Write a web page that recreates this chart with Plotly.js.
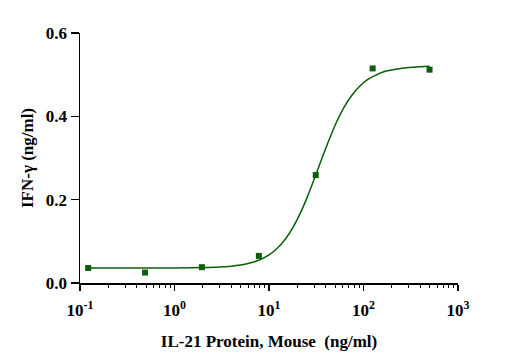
<!DOCTYPE html>
<html>
<head>
<meta charset="utf-8">
<script src="https://cdn.plot.ly/plotly-3.0.1.min.js"></script>
<style>html,body{margin:0;padding:0;background:#fff;}#chart{width:511px;height:363px;}</style>
</head>
<body>
<div id="chart"></div>
<script>
// Measured points
var concentration = [0.122, 0.488, 1.95, 7.81, 31.25, 125, 500];
var ifnGamma = [0.036, 0.025, 0.038, 0.065, 0.259, 0.515, 0.512];

// Fitted curve
var curveX = [0.122, 0.5, 1, 2, 3, 4, 5, 6, 8, 10, 12, 15, 18, 22, 26, 31, 37, 44, 52, 62, 75, 90, 110, 135, 170, 220, 300, 400, 500];
var curveY = [0.036, 0.036, 0.0362, 0.037, 0.0384, 0.0405, 0.0432, 0.0467, 0.0558, 0.0675, 0.0816, 0.1064, 0.134, 0.173, 0.212, 0.257, 0.304, 0.348, 0.387, 0.421, 0.450, 0.471, 0.488, 0.499, 0.508, 0.513, 0.517, 0.519, 0.520];

var xTickVals = [0.1, 1, 10, 100, 1000];
var xTickText = ['10<sup>-1</sup>', '10<sup>0</sup>', '10<sup>1</sup>', '10<sup>2</sup>', '10<sup>3</sup>'];
var yTickVals = [0, 0.2, 0.4, 0.6];
var yTickText = ['0.0', '0.2', '0.4', '0.6'];

var minorVals = [];
for (var d = -1; d < 3; d++) {
  for (var m = 2; m <= 9; m++) minorVals.push(m * Math.pow(10, d));
}

var green = '#0b5e0b';
var font = '"Liberation Serif", "Times New Roman", serif';

var traces = [
  {
    x: curveX, y: curveY, type: 'scatter', mode: 'lines',
    line: {color: green, width: 1.5, shape: 'spline'},
    hoverinfo: 'skip', showlegend: false
  },
  {
    x: concentration, y: ifnGamma, type: 'scatter', mode: 'markers',
    marker: {symbol: 'square', size: 6, color: green},
    showlegend: false
  }
];

var layout = {
  width: 511, height: 363,
  margin: {l: 80, r: 53, t: 33, b: 80},
  paper_bgcolor: '#fff', plot_bgcolor: '#fff',
  font: {family: font, color: '#000', size: 16},
  xaxis: {
    type: 'log', range: [-1, 3],
    tickmode: 'array', tickvals: xTickVals, ticktext: xTickText,
    ticks: 'outside', ticklen: 6, tickwidth: 1.5, tickcolor: '#000',
    minor: {tickmode: 'array', tickvals: minorVals, ticks: 'outside', ticklen: 3, tickwidth: 1, tickcolor: '#000'},
    showline: true, linecolor: '#000', linewidth: 1.5,
    showgrid: false, zeroline: false,
    tickfont: {family: font, size: 17, color: '#000', weight: 'bold'},
    ticklabelstandoff: 5,
    title: {text: '<b>IL-21 Protein, Mouse  (ng/ml)</b>', font: {family: font, size: 17, color: '#000'}, standoff: 16}
  },
  yaxis: {
    range: [0, 0.6],
    tickmode: 'array', tickvals: yTickVals, ticktext: yTickText,
    ticks: 'outside', ticklen: 8, tickwidth: 1.5, tickcolor: '#000',
    showline: true, linecolor: '#000', linewidth: 1.5,
    showgrid: false, zeroline: false,
    tickfont: {family: font, size: 17, color: '#000', weight: 'bold'},
    title: {text: '<b>IFN-γ (ng/ml)</b>', font: {family: font, size: 17, color: '#000'}, standoff: 8}
  }
};

Plotly.newPlot('chart', traces, layout, {displayModeBar: false, staticPlot: true});
</script>
</body>
</html>
